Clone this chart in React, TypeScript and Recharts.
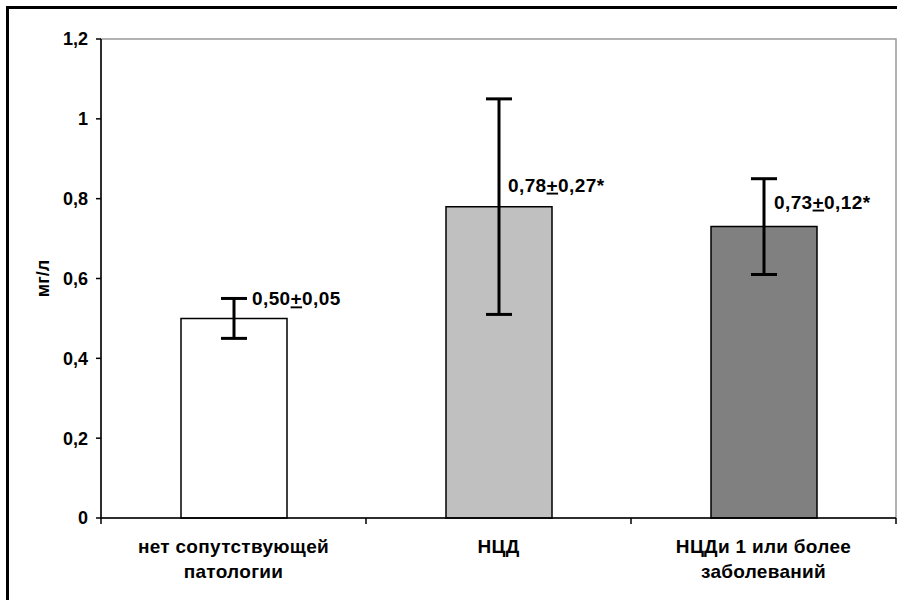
import React from "react";
import {
  Bar,
  BarChart,
  Cell,
  ErrorBar,
  LabelList,
  ReferenceArea,
  XAxis,
  YAxis
} from "recharts";

const categories = ["нет сопутствующей\nпатологии", "НЦД", "НЦДи 1 или более\nзаболеваний"];
const means = [0.5, 0.78, 0.73];
const errors = [0.05, 0.27, 0.12];
const marks = ["", "*", "*"];
const yTicks = [0, 0.2, 0.4, 0.6, 0.8, 1, 1.2];

const barColors = ["#ffffff", "#c0c0c0", "#808080"];
const labelShift = [
  { dx: 18, dy: -13 },
  { dx: 9, dy: -15 },
  { dx: 10, dy: -18 }
];

const font = "'Liberation Sans', Arial, sans-serif";
const BAND = 265;

const data = categories.map((name, i) => ({
  name,
  value: means[i],
  err: errors[i],
  mark: marks[i]
}));

const comma = (v: number) => v.toFixed(2).replace(".", ",");

function CategoryTick(props: any) {
  const { x, y, payload, index } = props;
  const lines = String(payload.value).split("\n");
  return (
    <g>
      <line x1={x - BAND / 2} y1={y} x2={x - BAND / 2} y2={y + 6} stroke="#000" strokeWidth={1.5} />
      {index === categories.length - 1 && (
        <line x1={x + BAND / 2} y1={y} x2={x + BAND / 2} y2={y + 6} stroke="#000" strokeWidth={1.5} />
      )}
      <text
        x={x}
        y={y + 35}
        textAnchor="middle"
        fontFamily={font}
        fontWeight="bold"
        fontSize={19}
        letterSpacing={0.3}
        fill="#000"
      >
        {lines.map((line, i) => (
          <tspan key={i} x={x} dy={i === 0 ? 0 : 25}>
            {line}
          </tspan>
        ))}
      </text>
    </g>
  );
}

function ValueLabel(props: any) {
  const { x, y, width, index } = props;
  const shift = labelShift[index] ?? { dx: 10, dy: -15 };
  return (
    <text
      x={x + width / 2 + shift.dx}
      y={y + shift.dy}
      fontFamily={font}
      fontWeight="bold"
      fontSize={19}
      letterSpacing={0.4}
      fill="#000"
    >
      {comma(means[index])}
      <tspan textDecoration="underline">+</tspan>
      {comma(errors[index])}
      {marks[index]}
    </text>
  );
}

export default function App() {
  return (
    <div style={{ position: "relative", width: 897, height: 600, overflow: "hidden", background: "#fff" }}>
      <style>{`body{margin:0}`}</style>
      <div
        style={{
          position: "absolute",
          left: 6,
          top: 6,
          width: 920,
          height: 620,
          borderLeft: "3px solid #000",
          borderTop: "3px solid #000"
        }}
      />
      <BarChart
        width={897}
        height={600}
        data={data}
        margin={{ top: 39, right: 1, bottom: 22, left: 0 }}
        barSize={106}
        style={{ position: "absolute", left: 0, top: 0 }}
      >
        <ReferenceArea y1={0} y2={1.2} fill="none" stroke="#999" strokeWidth={1.5} />
        <XAxis
          dataKey="name"
          height={60}
          interval={0}
          tickLine={false}
          tickSize={0}
          tickMargin={0}
          axisLine={{ stroke: "#000", strokeWidth: 1.5 }}
          tick={<CategoryTick />}
        />
        <YAxis
          width={101}
          domain={[0, 1.2]}
          ticks={yTicks}
          interval={0}
          tickSize={5}
          tickMargin={8}
          axisLine={{ stroke: "#000", strokeWidth: 1.5 }}
          tickLine={{ stroke: "#000", strokeWidth: 1.5 }}
          tickFormatter={(v: number) => String(v).replace(".", ",")}
          tick={{ fill: "#000", fontFamily: font, fontWeight: "bold", fontSize: 18 }}
          label={{
            value: "мг/л",
            angle: -90,
            position: "insideLeft",
            offset: 43,
            style: { textAnchor: "middle", fontFamily: font, fontWeight: "bold", fontSize: 18, fill: "#000" }
          }}
        />
        <Bar dataKey="value" stroke="#000" strokeWidth={1.5} isAnimationActive={false}>
          {data.map((_, i) => (
            <Cell key={i} fill={barColors[i]} />
          ))}
          <ErrorBar dataKey="err" width={13} stroke="#000" strokeWidth={3} direction="y" />
          <LabelList dataKey="value" content={<ValueLabel />} />
        </Bar>
      </BarChart>
    </div>
  );
}
